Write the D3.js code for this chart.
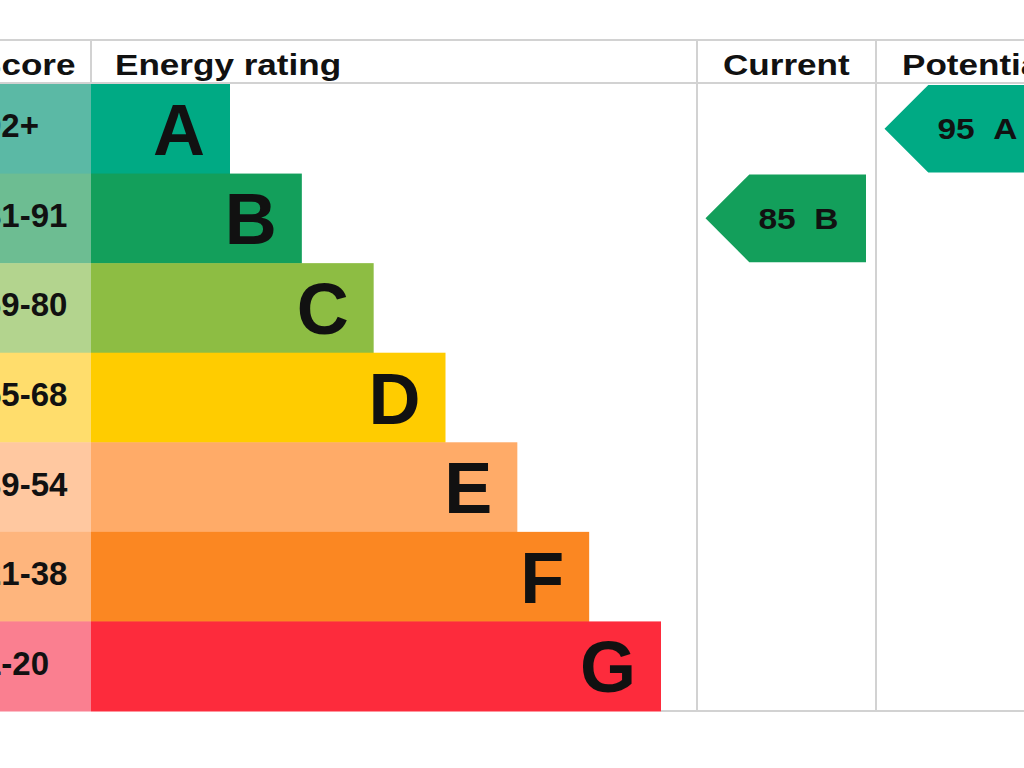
<!DOCTYPE html>
<html>
<head>
<meta charset="utf-8">
<script src="https://cdn.jsdelivr.net/npm/d3@7"></script>
<style>
  html, body { margin: 0; padding: 0; background: #ffffff; }
  svg { display: block; }
  text { font-family: "Liberation Sans", Arial, Helvetica, sans-serif; font-weight: bold; fill: #111111; }
</style>
</head>
<body>
<div id="chart"></div>
<script>
// ---- data ----
const bands = ["A", "B", "C", "D", "E", "F", "G"];
const scoreRanges = ["92+", "81-91", "69-80", "55-68", "39-54", "21-38", "1-20"];
const bandColors = ["#00aa84", "#139f5b", "#8dbd43", "#ffcc00", "#ffab68", "#fb8722", "#fd2b3c"];
const scoreColors = ["#5bb9a5", "#6dbd92", "#b3d48e", "#ffdd6c", "#ffc8a0", "#feb57d", "#fa7f90"];
const headers = ["Score", "Energy rating", "Current", "Potential"];
const ratingColumns = ["Current", "Potential"];
const ratingScores = [85, 95];
const ratingBands = ["B", "A"];

(function () {
// ---- layout ----
const W = 1024, H = 768;
const tableTop = 40, headBottom = 84, tableBottom = 711;
const scoreLeft = -40, scoreRight = 91;
const colCurrent = [697, 876], colPotential = [876, 1055];

const svg = d3.select("#chart").append("svg").attr("width", W).attr("height", H);

const y = d3.scaleBand().domain(bands).range([headBottom, tableBottom]).paddingInner(0);
const barEnd = d3.scaleLinear().domain([0, bands.length - 1]).range([230, 661]);
const colX = d3.scaleOrdinal().domain(ratingColumns).range([colCurrent[0], colPotential[0]]);
const colW = 179;

// score column cells
svg.selectAll("rect.score").data(bands).join("rect")
  .attr("class", "score")
  .attr("x", scoreLeft).attr("y", d => y(d))
  .attr("width", scoreRight - scoreLeft).attr("height", y.bandwidth() + 0.5)
  .attr("fill", (d, i) => scoreColors[i]);

// bars
svg.selectAll("rect.bar").data(bands).join("rect")
  .attr("class", "bar")
  .attr("x", scoreRight).attr("y", d => y(d))
  .attr("width", (d, i) => barEnd(i) - scoreRight).attr("height", y.bandwidth() + 0.5)
  .attr("fill", (d, i) => bandColors[i]);

// score labels
svg.selectAll("text.range").data(scoreRanges).join("text")
  .attr("class", "range")
  .attr("x", -17)
  .attr("y", (d, i) => y(bands[i]) + y.bandwidth() / 2 + 8.5)
  .attr("font-size", 33)
  .text(d => d);

// band letters
svg.selectAll("text.letter").data(bands).join("text")
  .attr("class", "letter")
  .attr("text-anchor", "end")
  .attr("x", (d, i) => barEnd(i) - 25)
  .attr("y", d => y(d) + y.bandwidth() / 2 + 26)
  .attr("font-size", 72)
  .text(d => d);

// grid lines
const gridColor = "#d2d2d2";
svg.append("line").attr("x1", 0).attr("x2", W).attr("y1", tableTop).attr("y2", tableTop)
  .attr("stroke", gridColor).attr("stroke-width", 2);
svg.append("line").attr("x1", 0).attr("x2", W).attr("y1", headBottom - 1).attr("y2", headBottom - 1)
  .attr("stroke", gridColor).attr("stroke-width", 2);
svg.append("line").attr("x1", barEnd(bands.length - 1)).attr("x2", W).attr("y1", tableBottom).attr("y2", tableBottom)
  .attr("stroke", gridColor).attr("stroke-width", 2);
svg.append("line").attr("x1", scoreRight).attr("x2", scoreRight).attr("y1", tableTop).attr("y2", headBottom)
  .attr("stroke", gridColor).attr("stroke-width", 2);
[colCurrent[0], colPotential[0]].forEach(x => {
  svg.append("line").attr("x1", x).attr("x2", x).attr("y1", tableTop).attr("y2", tableBottom)
    .attr("stroke", gridColor).attr("stroke-width", 2);
});

// headers
const headerX = [-22, 115, 723, 902];
headers.forEach((h, i) => {
  svg.append("text")
    .attr("transform", `translate(${headerX[i]},75) scale(1.17,1)`)
    .attr("font-size", 30)
    .text(h);
});

// rating arrows
ratingColumns.forEach((c, i) => {
  const band = ratingBands[i];
  const bi = bands.indexOf(band);
  const y0 = y(band) + 1, y1 = y(band) + y.bandwidth() - 1;
  const h = y1 - y0;
  const x0 = colX(c) + 8.5, x1 = colX(c) + colW - 10;
  const pts = [[x0, (y0 + y1) / 2], [x0 + h / 2, y0], [x1, y0], [x1, y1], [x0 + h / 2, y1]];
  svg.append("polygon")
    .attr("points", pts.map(p => p.join(",")).join(" "))
    .attr("fill", bandColors[bi]);
  svg.append("text")
    .attr("x", x0 + 53)
    .attr("y", (y0 + y1) / 2 + 10.5)
    .attr("font-size", 29)
    .attr("textLength", 80)
    .attr("lengthAdjust", "spacingAndGlyphs")
    .text(ratingScores[i] + "\u00a0\u00a0" + band);
});
})();
</script>
</body>
</html>
